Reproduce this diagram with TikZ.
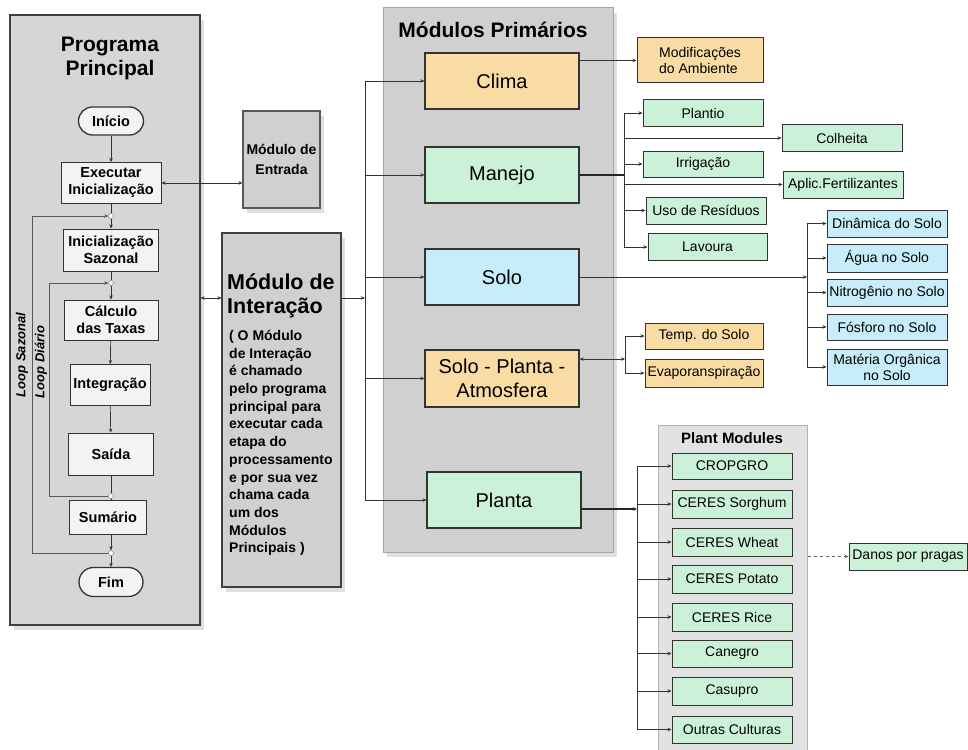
\documentclass[tikz,border=0pt]{standalone}
\usepackage{fontspec}
\setmainfont{Liberation Sans}
\usetikzlibrary{arrows.meta,shapes.misc,shadows}
\definecolor{panelL}{HTML}{D6D6D6}
\definecolor{panelP}{HTML}{D0D0D0}
\definecolor{panelM}{HTML}{E2E2E2}
\definecolor{boxW}{HTML}{F3F3F3}
\definecolor{ora}{HTML}{F9DCA4}
\definecolor{gre}{HTML}{CBF2D8}
\definecolor{blu}{HTML}{C7EDFA}
\newcommand\fsz[2]{\fontsize{#1}{#2}\selectfont}
\begin{document}
\begin{tikzpicture}[x=1pt,y=-1pt,
  >={Stealth[length=4pt,width=3.5pt]},
  shad/.style={drop shadow={opacity=0.25,shadow xshift=4pt,shadow yshift=-5pt}},
  panel/.style={draw=black!75,line width=1.2pt,fill=panelL,shad,inner sep=0pt},
  lbox/.style={draw=black!80,line width=1pt,fill=boxW,font=\fsz{14.5}{17}\bfseries,align=center,inner sep=0pt},
  pill/.style={lbox,rounded rectangle,line width=1.3pt},
  jc/.style={circle,draw=black!60,fill=white,minimum size=5pt,inner sep=0pt},
  pbox/.style={draw=black!80,line width=1.2pt,minimum width=154pt,minimum height=56pt,font=\fsz{20}{24},align=center,inner sep=0pt},
  sbox/.style={draw=black!80,line width=1pt,minimum width=120pt,minimum height=27pt,font=\fsz{14}{16},align=center,inner sep=0pt},
  conn/.style={draw=black!80,line width=0.7pt},
  thick conn/.style={draw=black!85,line width=1.6pt},
  loopl/.style={draw=black!65,line width=0.8pt},
  ttl/.style={font=\fsz{21}{24}\bfseries,align=center,inner sep=0pt}
]
\useasboundingbox (0,0) rectangle (968,749);

% ---------- left panel ----------
\node[panel,minimum width=190pt,minimum height=610pt] (pp) at (105,320) {};
\node[ttl] (ppt) at (110,58) {Programa\\Principal};
\node[pill,minimum width=65pt,minimum height=28pt] (ini) at (111,121) {Início};
\node[lbox,minimum width=100pt,minimum height=41pt] (exe) at (111,183) {Executar\\Inicialização};
\node[lbox,minimum width=95pt,minimum height=42pt] (saz) at (111,250) {Inicialização\\Sazonal};
\node[lbox,minimum width=94pt,minimum height=40pt] (calc) at (111,320) {Cálculo\\das Taxas};
\node[lbox,minimum width=80pt,minimum height=41pt] (integ) at (110,385) {Integração};
\node[lbox,minimum width=85pt,minimum height=42pt] (saida) at (111,454) {Saída};
\node[lbox,minimum width=77pt,minimum height=34pt] (sum) at (108,517) {Sumário};
\node[pill,minimum width=64pt,minimum height=29pt] (fim) at (111,582) {Fim};
\node[jc] (c1) at (111,216) {};
\node[jc] (c2) at (111,283) {};
\node[jc] (c3) at (111,496) {};
\node[jc] (c4) at (111,553) {};
\draw[conn,->] (ini) -- (exe);
\draw[conn] (exe) -- (c1);
\draw[conn,->] (c1) -- (saz);
\draw[conn] (saz) -- (c2);
\draw[conn,->] (c2) -- (calc);
\draw[conn,->] (calc) -- (integ);
\draw[conn,->] (integ) -- (saida);
\draw[conn] (saida) -- (c3);
\draw[conn] (c3) -- (sum.north -| c3);
\draw[conn,->] (sum.south -| c4) -- (c4);
\draw[conn,->] (c4) -- (fim);
\coordinate (ls1) at (32,553);
\coordinate (ls2) at (32,216);
\coordinate (ld1) at (49,496);
\coordinate (ld2) at (49,283);
\draw[loopl,->] (c4.west) -- (ls1) -- (ls2) -- (c1.west);
\draw[loopl,->] (c3.west) -- (ld1) -- (ld2) -- (c2.west);
\node[rotate=90,font=\fsz{13}{15}\bfseries\itshape] (lsz) at (22,355) {Loop Sazonal};
\node[rotate=90,font=\fsz{13}{15}\bfseries\itshape] (ldi) at (41,362) {Loop Diário};

% ---------- entrada / interacao ----------
\node[panel,fill=panelP,draw=black!65,minimum width=77pt,minimum height=97pt,font=\fsz{14}{20}\bfseries,align=center] (entr) at (281.5,159.5) {Módulo de\\Entrada};
\draw[conn,<->] (exe.east) -- (entr.west |- exe.east);
\node[panel,fill=panelP,minimum width=119pt,minimum height=354pt] (inter) at (281.5,410) {};
\node[anchor=west,font=\fsz{21.5}{24}\bfseries,align=left,inner sep=0pt] (intt) at (227,296) {Módulo de\\Interação};
\node[anchor=north west,font=\fsz{14}{17.7}\bfseries,align=left,inner sep=0pt] (intb) at (229,330) {( O Módulo\\de Interação\\é chamado\\pelo programa\\principal para\\executar cada\\etapa do\\processamento\\e por sua vez\\chama cada\\um dos\\Módulos\\Principais )};
\coordinate (iy) at (0,298);
\draw[conn,<->] (pp.east |- iy) -- (inter.west |- iy);

% ---------- primary modules ----------
\node[panel,fill=panelP,draw=black!35,line width=1pt,minimum width=230pt,minimum height=544pt] (prim) at (498,280) {};
\node[ttl] (primt) at (493,30) {Módulos Primários};
\node[pbox,fill=ora] (clima) at (502,81) {Clima};
\node[pbox,fill=gre] (manejo) at (502,175) {Manejo};
\node[pbox,fill=blu] (solo) at (502,277) {Solo};
\node[pbox,fill=ora,minimum height=57pt] (spa) at (502,378.5) {Solo - Planta -\\Atmosfera};
\node[pbox,fill=gre] (planta) at (504,500) {Planta};

\coordinate (bx) at (365,0);
\draw[conn,->] (inter.east |- iy) -- (bx |- iy);
\draw[conn] (bx |- clima.west) -- (bx |- planta.west);
\foreach \n in {clima,manejo,solo,spa,planta} \draw[conn,->] (bx |- \n.west) -- (\n.west);

% Clima outputs
\node[sbox,fill=ora,minimum width=126pt,minimum height=45pt,align=left] (mod) at (700,60.5) {Modificações\\do Ambiente};
\draw[conn,->] (clima.east |- mod.west) -- (mod.west);

% Manejo outputs
\node[sbox,fill=gre] (plan) at (703,113) {Plantio};
\node[sbox,fill=gre] (colh) at (842,138) {Colheita};
\node[sbox,fill=gre,minimum height=26pt] (irri) at (703,164) {Irrigação};
\node[sbox,fill=gre] (apl) at (843,184.5) {Aplic.Fertilizantes};
\node[sbox,fill=gre] (uso) at (706,210.5) {Uso de Resíduos};
\node[sbox,fill=gre,minimum width=119pt] (lav) at (707.5,247) {Lavoura};
\coordinate (mx) at (624,0);
\draw[thick conn] (manejo.east) -- (mx |- manejo.east);
\draw[conn] (mx |- plan.west) -- (mx |- lav.west);
\foreach \n in {plan,colh,irri,apl,uso,lav} \draw[conn,->] (mx |- \n.west) -- (\n.west);

% Solo outputs
\node[sbox,fill=blu] (din) at (887,223.5) {Dinâmica do Solo};
\node[sbox,fill=blu,minimum height=28pt] (agua) at (887,258) {Água no Solo};
\node[sbox,fill=blu] (nit) at (887,292.5) {Nitrogênio no Solo};
\node[sbox,fill=blu,minimum height=26pt] (fos) at (887,327) {Fósforo no Solo};
\node[sbox,fill=blu,minimum height=36pt] (mat) at (887,367) {Matéria Orgânica\\no Solo};
\coordinate (sx) at (807,0);
\draw[conn,->] (solo.east) -- (sx |- solo.east);
\draw[conn] (sx |- din.west) -- (sx |- mat.west);
\foreach \n in {din,agua,nit,fos,mat} \draw[conn,->] (sx |- \n.west) -- (\n.west);

% SPA outputs
\node[sbox,fill=ora,minimum width=118pt,minimum height=26pt] (temp) at (704,336) {Temp. do Solo};
\node[sbox,fill=ora,minimum width=118pt,minimum height=28pt] (evap) at (704,373) {Evaporanspiração};
\coordinate (tx) at (625,0);
\coordinate (sy) at (0,359);
\draw[conn,<->] (spa.east |- sy) -- (tx |- sy);
\draw[conn] (tx |- temp.west) -- (tx |- evap.west);
\foreach \n in {temp,evap} \draw[conn,->] (tx |- \n.west) -- (\n.west);

% Plant modules
\node[draw=black!30,line width=1pt,fill=panelM,minimum width=149pt,minimum height=330pt,inner sep=0pt] (pm) at (732.5,590) {};
\node[font=\fsz{15}{17}\bfseries,inner sep=0pt] (pmt) at (732,438) {Plant Modules};
\node[sbox,fill=gre,minimum height=26pt] (crop) at (732,466) {CROPGRO};
\node[sbox,fill=gre,minimum height=28pt] (sorg) at (732,504) {CERES Sorghum};
\node[sbox,fill=gre,minimum height=28pt] (whe) at (732,542) {CERES Wheat};
\node[sbox,fill=gre,minimum height=28pt] (pot) at (732,579) {CERES Potato};
\node[sbox,fill=gre,minimum height=28pt] (rice) at (732,617) {CERES Rice};
\node[sbox,fill=gre] (cane) at (732,653.5) {Canegro};
\node[sbox,fill=gre,minimum height=28pt] (casu) at (732,691) {Casupro};
\node[sbox,fill=gre] (outr) at (732,729.5) {Outras Culturas};
\coordinate (px) at (637,0);
\coordinate (py) at (0,509);
\draw[thick conn,->] (planta.east |- py) -- (px |- py);
\draw[conn] (px |- crop.west) -- (px |- outr.west);
\foreach \n in {crop,sorg,whe,pot,rice,cane,casu,outr} \draw[conn,->] (px |- \n.west) -- (\n.west);

\node[sbox,fill=gre,minimum width=118pt] (dan) at (908,556.5) {Danos por pragas};
\draw[conn,draw=black!60,dashed,->] (pm.east |- dan.west) -- (dan.west);
\end{tikzpicture}
\end{document}
